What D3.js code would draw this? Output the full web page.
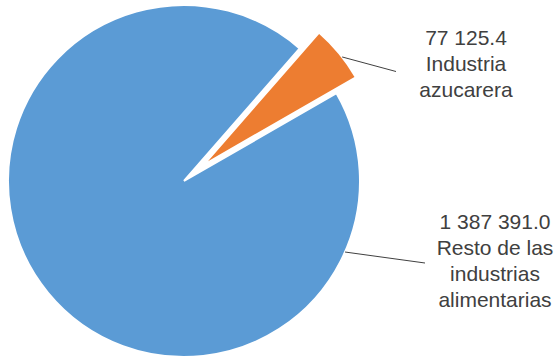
<!DOCTYPE html>
<html>
<head>
<meta charset="utf-8">
<script src="https://cdn.jsdelivr.net/npm/d3@7"></script>
<style>
  html, body { margin: 0; padding: 0; background: #ffffff; }
  svg { display: block; }
</style>
</head>
<body>
<svg id="chart" width="554" height="358"></svg>
<script>
// ---- data ----
const categories = ["Industria azucarera", "Resto de las industrias alimentarias"];
const values = [77125.4, 1387391.0];
const labelLines = [["Industria", "azucarera"], ["Resto de las", "industrias", "alimentarias"]];
const colors = ["#ED7D31", "#5B9BD5"];

// ---- layout ----
const W = 554, H = 358;
const cx = 184, cy = 181, R = 176;
const deg = Math.PI / 180;
const startAngle = 41.1 * deg;
const explode = [25, 0];
// label placement (layout)
const labelPos = [
  { x: 466, y: 44.7, lineStart: null, lineEnd: [396, 71.5] },
  { x: 495, y: 228.7, lineAngle: 113.8, lineEnd: [425, 263] }
];
const lineH = 26.2;

const fmt = d3.formatLocale({ decimal: ".", thousands: "\u00a0", grouping: [3], currency: ["", ""] }).format(",.1f");

const svg = d3.select("#chart");
const g = svg.append("g").attr("transform", `translate(${cx},${cy})`);

const pie = d3.pie().sort(null).value(d => d).startAngle(startAngle).endAngle(startAngle + 2 * Math.PI);
const arcs = pie(values);
const arc = d3.arc().innerRadius(0).outerRadius(R);

function offset(d, i) {
  const a = (d.startAngle + d.endAngle) / 2;
  return [Math.sin(a) * explode[i], -Math.cos(a) * explode[i]];
}

g.selectAll("path.slice")
  .data(arcs)
  .join("path")
  .attr("class", "slice")
  .attr("d", arc)
  .attr("transform", (d, i) => { const o = offset(d, i); return `translate(${o[0]},${o[1]})`; })
  .attr("fill", (d, i) => colors[i])
  .attr("stroke", "#ffffff")
  .attr("stroke-width", 2)
  .attr("stroke-linejoin", "miter");

// leader lines
arcs.forEach((d, i) => {
  const o = offset(d, i);
  const a = labelPos[i].lineAngle != null ? labelPos[i].lineAngle * deg : (d.startAngle + d.endAngle) / 2 + 1.5 * deg;
  const x1 = cx + o[0] + Math.sin(a) * R;
  const y1 = cy + o[1] - Math.cos(a) * R;
  svg.append("line")
    .attr("x1", x1).attr("y1", y1)
    .attr("x2", labelPos[i].lineEnd[0]).attr("y2", labelPos[i].lineEnd[1])
    .attr("stroke", "#404040").attr("stroke-width", 1);
});

// labels
arcs.forEach((d, i) => {
  const t = svg.append("text")
    .attr("x", labelPos[i].x)
    .attr("y", labelPos[i].y)
    .attr("text-anchor", "middle")
    .attr("font-family", "'Liberation Sans', Arial, sans-serif")
    .attr("font-size", 21)
    .attr("fill", "#404040");
  const lines = [fmt(values[i])].concat(labelLines[i]);
  lines.forEach((ln, k) => {
    t.append("tspan").attr("x", labelPos[i].x).attr("dy", k === 0 ? 0 : lineH).text(ln);
  });
});
</script>
</body>
</html>
